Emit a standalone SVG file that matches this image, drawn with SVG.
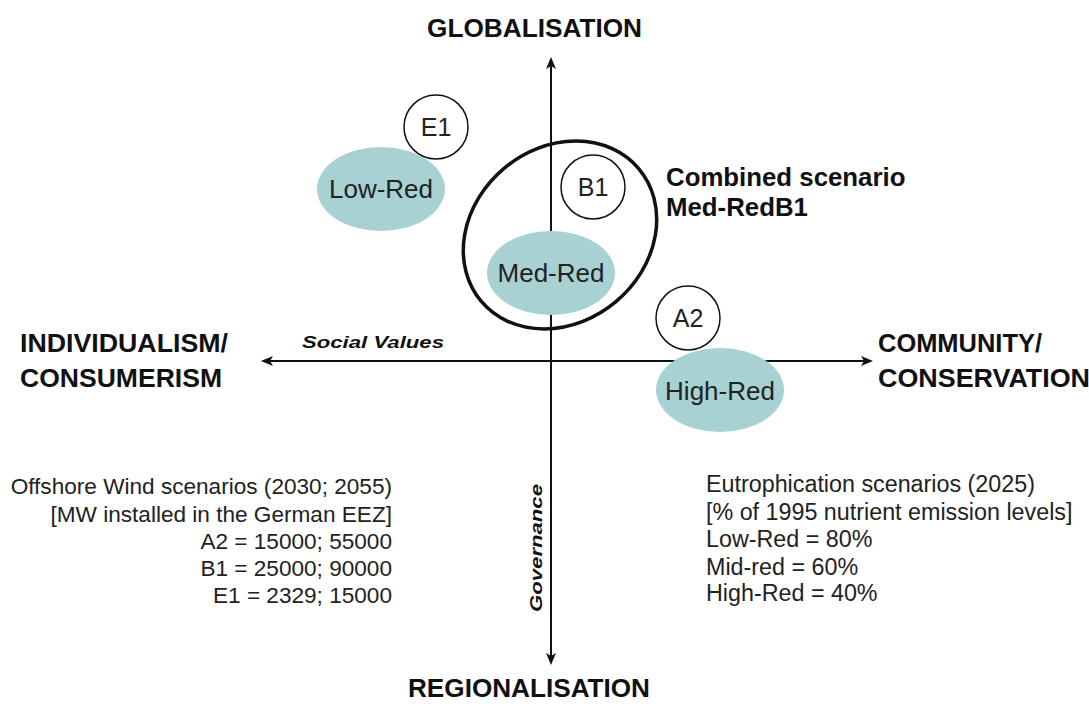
<svg xmlns="http://www.w3.org/2000/svg" width="1089" height="707" viewBox="0 0 1089 707">
  <defs>
    <marker id="arrow" markerWidth="12" markerHeight="10" refX="10" refY="5" orient="auto" markerUnits="userSpaceOnUse">
      <path d="M0,0 L12,5 L0,10 L3,5 Z" fill="#111"/>
    </marker>
    <style>
      .axis { stroke: #111; stroke-width: 2; fill: none; marker-end: url(#arrow); }
      .pole { font-family: "Liberation Sans", Arial, sans-serif; font-weight: bold; font-size: 25px; fill: #111; }
      .axislabel { font-family: "Liberation Sans", Arial, sans-serif; font-weight: bold; font-style: italic; font-size: 17px; fill: #111; }
      .blob { fill: #a7d1d2; }
      .tag { fill: #fff; stroke: #111; stroke-width: 1.5; }
      .lbl { font-family: "Liberation Sans", Arial, sans-serif; font-size: 26px; fill: #222; text-anchor: middle; }
      .tagl { font-family: "Liberation Sans", Arial, sans-serif; font-size: 25px; fill: #222; text-anchor: middle; }
      .note { font-family: "Liberation Sans", Arial, sans-serif; font-size: 22.6px; fill: #222; }
      .note-r { font-family: "Liberation Sans", Arial, sans-serif; font-size: 23.3px; fill: #222; }
      .combo { font-family: "Liberation Sans", Arial, sans-serif; font-weight: bold; font-size: 25.8px; fill: #111; }
    </style>
  </defs>
  <rect width="1089" height="707" fill="#fff"/>

  <!-- axes -->
  <g id="connectors">
    <line class="axis" x1="551" y1="361" x2="551" y2="59"/>
    <line class="axis" x1="551" y1="361" x2="551" y2="663"/>
    <line class="axis" x1="551" y1="361" x2="871" y2="361"/>
    <line class="axis" x1="551" y1="361" x2="263" y2="361"/>
  </g>

  <!-- pole labels -->
  <g id="poles">
    <text class="pole" x="427" y="37" textLength="215" lengthAdjust="spacingAndGlyphs">GLOBALISATION</text>
    <text class="pole" x="408" y="697" textLength="242" lengthAdjust="spacingAndGlyphs">REGIONALISATION</text>
    <text class="pole" x="20" y="352" textLength="208" lengthAdjust="spacingAndGlyphs">INDIVIDUALISM/</text>
    <text class="pole" x="20" y="387" textLength="202" lengthAdjust="spacingAndGlyphs">CONSUMERISM</text>
    <text class="pole" x="878" y="352" textLength="164" lengthAdjust="spacingAndGlyphs">COMMUNITY/</text>
    <text class="pole" x="878" y="387" textLength="212" lengthAdjust="spacingAndGlyphs">CONSERVATION</text>
  </g>

  <!-- axis names -->
  <g id="axis-names">
    <text class="axislabel" x="302" y="348" textLength="142" lengthAdjust="spacingAndGlyphs">Social Values</text>
    <text class="axislabel" transform="translate(542,612) rotate(-90)" x="0" y="0" textLength="128" lengthAdjust="spacingAndGlyphs">Governance</text>
  </g>

  <!-- combined scenario outline -->
  <g id="combined">
    <ellipse cx="560" cy="235" rx="103" ry="87" transform="rotate(-40 560 235)" fill="none" stroke="#111" stroke-width="3.5"/>
    <text class="combo" x="666" y="186">Combined scenario</text>
    <text class="combo" x="666" y="216">Med-RedB1</text>
  </g>

  <!-- eutrophication scenarios -->
  <g id="low-red">
    <ellipse class="blob" cx="381" cy="189" rx="64" ry="42"/>
    <text class="lbl" x="381" y="198">Low-Red</text>
  </g>
  <g id="med-red">
    <ellipse class="blob" cx="551" cy="273" rx="64" ry="42"/>
    <text class="lbl" x="551" y="282">Med-Red</text>
  </g>
  <g id="high-red">
    <ellipse class="blob" cx="720" cy="390" rx="64" ry="42"/>
    <text class="lbl" x="720" y="400">High-Red</text>
  </g>

  <!-- offshore wind scenarios -->
  <g id="e1">
    <circle class="tag" cx="436" cy="127" r="32"/>
    <text class="tagl" x="436" y="136">E1</text>
  </g>
  <g id="b1">
    <circle class="tag" cx="593" cy="187" r="32"/>
    <text class="tagl" x="593" y="196">B1</text>
  </g>
  <g id="a2">
    <circle class="tag" cx="688" cy="318" r="32"/>
    <text class="tagl" x="688" y="327">A2</text>
  </g>

  <!-- legends -->
  <g id="wind-legend" class="note" text-anchor="end">
    <text x="392" y="494">Offshore Wind scenarios (2030; 2055)</text>
    <text x="392" y="522">[MW installed in the German EEZ]</text>
    <text x="392" y="549">A2 = 15000; 55000</text>
    <text x="392" y="576">B1 = 25000; 90000</text>
    <text x="392" y="603">E1 = 2329; 15000</text>
  </g>
  <g id="eutro-legend" class="note-r">
    <text x="706" y="492">Eutrophication scenarios (2025)</text>
    <text x="706" y="520">[% of 1995 nutrient emission levels]</text>
    <text x="706" y="547">Low-Red = 80%</text>
    <text x="706" y="575">Mid-red = 60%</text>
    <text x="706" y="601">High-Red = 40%</text>
  </g>
</svg>
